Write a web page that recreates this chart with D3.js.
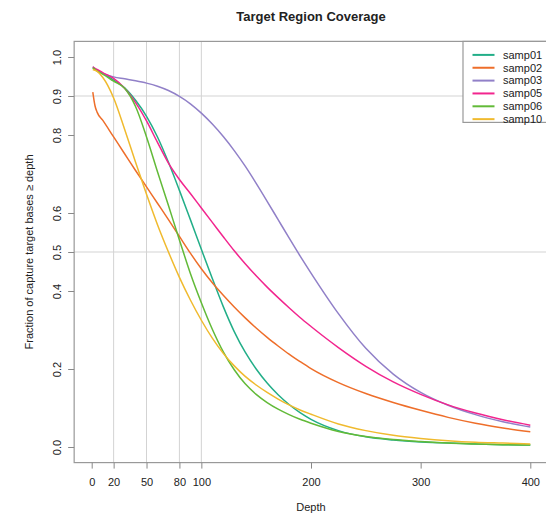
<!DOCTYPE html>
<html>
<head>
<meta charset="utf-8">
<script src="https://cdnjs.cloudflare.com/ajax/libs/d3/7.8.5/d3.min.js"></script>
<style>
  body { margin: 0; background: #fff; }
  svg text { font-family: "Liberation Sans", Arial, sans-serif; fill: #222; }
</style>
</head>
<body>
<div id="chart"></div>
<script>
"use strict";

const depths = [1, 3, 5, 10, 20, 30, 40, 50, 60, 70, 80, 90, 100, 110, 120, 130, 140, 150,
    160, 170, 180, 190, 200, 225, 250, 275, 300, 325, 350, 375, 400];

const samp01 = [0.973, 0.969, 0.965, 0.958, 0.941, 0.921, 0.889, 0.848, 0.795, 0.730, 0.658, 0.583, 0.507, 0.432, 0.360, 0.296, 0.243, 0.200,
    0.164, 0.134, 0.109, 0.088, 0.071, 0.042, 0.026, 0.018, 0.013, 0.010, 0.008, 0.006, 0.005];
const samp02 = [0.910, 0.875, 0.858, 0.838, 0.795, 0.752, 0.709, 0.667, 0.625, 0.583, 0.540, 0.497, 0.457, 0.421, 0.389, 0.359, 0.331, 0.305,
    0.281, 0.259, 0.238, 0.219, 0.201, 0.165, 0.137, 0.114, 0.094, 0.076, 0.061, 0.049, 0.039];
const samp03 = [0.975, 0.970, 0.965, 0.958, 0.949, 0.944, 0.939, 0.933, 0.925, 0.914, 0.899, 0.880, 0.856, 0.828, 0.796, 0.760, 0.720, 0.676,
    0.630, 0.583, 0.536, 0.490, 0.446, 0.342, 0.253, 0.187, 0.140, 0.107, 0.083, 0.065, 0.051];
const samp05 = [0.975, 0.971, 0.968, 0.960, 0.945, 0.920, 0.883, 0.836, 0.781, 0.728, 0.686, 0.650, 0.613, 0.576, 0.539, 0.503, 0.470, 0.439,
    0.410, 0.383, 0.357, 0.332, 0.309, 0.255, 0.207, 0.167, 0.135, 0.108, 0.087, 0.070, 0.056];
const samp06 = [0.972, 0.968, 0.964, 0.956, 0.938, 0.920, 0.873, 0.795, 0.706, 0.619, 0.531, 0.445, 0.370, 0.302, 0.244, 0.198, 0.162, 0.135,
    0.114, 0.097, 0.083, 0.071, 0.061, 0.040, 0.027, 0.019, 0.014, 0.010, 0.008, 0.006, 0.005];
const samp10 = [0.968, 0.966, 0.963, 0.948, 0.895, 0.815, 0.730, 0.648, 0.570, 0.500, 0.435, 0.377, 0.325, 0.279, 0.240, 0.208, 0.181, 0.159,
    0.140, 0.123, 0.108, 0.095, 0.084, 0.059, 0.042, 0.030, 0.022, 0.016, 0.012, 0.010, 0.008];

const sampleNames = ["samp01", "samp02", "samp03", "samp05", "samp06", "samp10"];
const sampleValues = [samp01, samp02, samp03, samp05, samp06, samp10];
const sampleColors = ["#22AE88", "#EE6E2A", "#9180C8", "#F2258E", "#62BA38", "#F0BA2E"];

const xTicks = [0, 20, 50, 80, 100, 200, 300, 400];
const yTicks = [0, 0.2, 0.4, 0.5, 0.6, 0.8, 0.9, 1.0];
const xGrid = [20, 50, 80, 100];
const yGrid = [0.9, 0.5];

const cont = {
    width: 546,
    height: 513,
}

window.onload = function () {
    let svg = d3.select("#chart")
        .append("svg")
        .attr("width", cont.width)
        .attr("height", cont.height);

    // R style plot region, 4% padding beyond the data range
    let xScale = d3.scaleLinear().domain([0, 400]).range([91.7, 530.3]);
    let yScale = d3.scaleLinear().domain([0, 1]).range([447, 57]);

    let left = xScale(-16), right = xScale(416);
    let top = yScale(1.04), bottom = yScale(-0.04);

    // grid
    svg.selectAll(".vgrid")
        .data(xGrid)
        .enter()
        .append("line")
        .attr("x1", d => xScale(d)).attr("x2", d => xScale(d))
        .attr("y1", top).attr("y2", bottom)
        .attr("stroke", "#d3d3d3")
        .attr("stroke-width", 1);

    svg.selectAll(".hgrid")
        .data(yGrid)
        .enter()
        .append("line")
        .attr("x1", left).attr("x2", right)
        .attr("y1", d => yScale(d)).attr("y2", d => yScale(d))
        .attr("stroke", "#d3d3d3")
        .attr("stroke-width", 1);

    // curves
    let line = d3.line()
        .x((d, i) => xScale(depths[i]))
        .y(d => yScale(d))
        .curve(d3.curveMonotoneX);

    svg.selectAll(".curve")
        .data(sampleValues)
        .enter()
        .append("path")
        .attr("fill", "none")
        .attr("stroke", (d, i) => sampleColors[i])
        .attr("stroke-width", 1.5)
        .attr("d", line);

    // box
    svg.append("rect")
        .attr("x", left).attr("y", top)
        .attr("width", right - left).attr("height", bottom - top)
        .attr("fill", "none")
        .attr("stroke", "#999")
        .attr("stroke-width", 1.2);

    // axes
    let xAxis = d3.axisBottom(xScale).tickValues(xTicks).tickSize(6).tickPadding(10)
        .tickFormat(d3.format("d"));
    let gx = svg.append("g")
        .attr("transform", "translate(0," + bottom + ")")
        .call(xAxis);
    gx.select(".domain").remove();

    let yAxis = d3.axisLeft(yScale).tickValues(yTicks).tickSize(6).tickPadding(0)
        .tickFormat(d3.format(".1f"));
    let gy = svg.append("g")
        .attr("transform", "translate(" + left + ",0)")
        .call(yAxis);
    gy.select(".domain").remove();

    gx.selectAll("line").attr("stroke", "#888");
    gy.selectAll("line").attr("stroke", "#888");
    gx.selectAll("text").attr("font-size", 11).attr("fill", "#333");
    gy.selectAll("text")
        .attr("font-size", 11)
        .attr("fill", "#333")
        .attr("text-anchor", "middle")
        .attr("transform", "translate(-17,0) rotate(-90)")
        .attr("x", 0)
        .attr("dy", "0.35em");

    // legend
    let legend = svg.append("g").attr("transform", "translate(463," + top + ")");
    legend.append("rect")
        .attr("x", 0).attr("y", 0)
        .attr("width", 100).attr("height", 81)
        .attr("fill", "#fff")
        .attr("stroke", "#999")
        .attr("stroke-width", 1.2);

    let rows = legend.selectAll(".row")
        .data(sampleNames)
        .enter()
        .append("g")
        .attr("transform", (d, i) => "translate(0," + (13.5 + i * 12.85) + ")");
    rows.append("line")
        .attr("x1", 9.5).attr("x2", 31.5)
        .attr("stroke", (d, i) => sampleColors[i])
        .attr("stroke-width", 2);
    rows.append("text")
        .attr("x", 40)
        .attr("dy", "0.35em")
        .attr("font-size", 11)
        .attr("fill", "#333")
        .text(d => d);

    // labels
    svg.append("text")
        .attr("x", (left + right) / 2)
        .attr("y", 21)
        .attr("text-anchor", "middle")
        .attr("font-size", 13)
        .attr("font-weight", "bold")
        .text("Target Region Coverage");

    svg.append("text")
        .attr("x", (left + right) / 2)
        .attr("y", 511)
        .attr("text-anchor", "middle")
        .attr("font-size", 11)
        .attr("fill", "#333")
        .text("Depth");

    svg.append("text")
        .attr("transform", "translate(33," + ((top + bottom) / 2) + ") rotate(-90)")
        .attr("text-anchor", "middle")
        .attr("font-size", 11)
        .attr("fill", "#333")
        .text("Fraction of capture target bases \u2265 depth");
}
</script>
</body>
</html>
